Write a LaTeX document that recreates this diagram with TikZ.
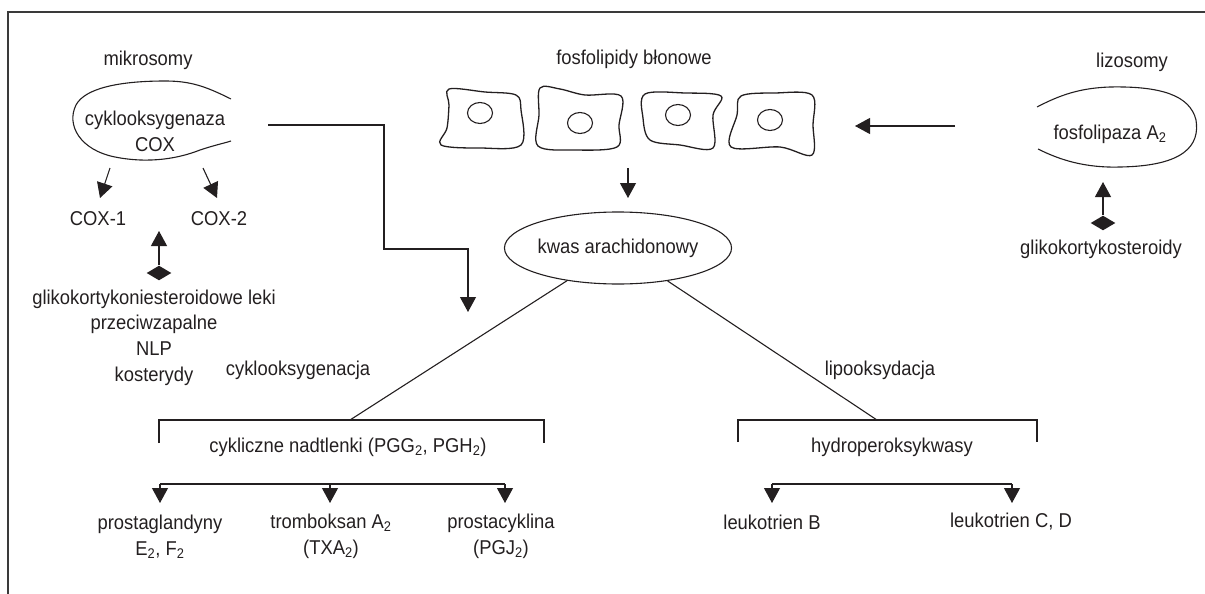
\documentclass[tikz,border=0pt]{standalone}
\usepackage{fontspec}
\setmainfont[FakeStretch=0.92]{Liberation Sans}
\usetikzlibrary{shapes.geometric,arrows.meta}
\definecolor{ink}{HTML}{231F20}
\definecolor{frame}{HTML}{3A3A3A}
\newcommand{\lsub}[1]{\textsubscript{#1}}
\begin{document}
\begin{tikzpicture}[x=1pt,y=-1pt,line width=1.1pt,draw=ink,
  lbl/.style={font=\fontsize{20}{26}\selectfont,text=ink,inner sep=0pt,align=center},
  arr/.style={-{Triangle[width=16pt,length=15pt]}},
  dia/.style={diamond,fill=ink,draw=none,minimum width=25pt,minimum height=15pt,inner sep=0pt},
  cell/.style={line width=1.3pt,draw=ink},
  nuc/.style={line width=1.1pt,draw=ink}]
\useasboundingbox (0,0) rectangle (1205,594);
% frame (left and top only)
\draw[frame,line width=1.5pt] (8,594) -- (8,12) -- (1205,12);

% ---- mikrosomy / COX
\node[lbl] (mikro) at (148,60) {mikrosomy};
\node[lbl] (cox) at (155,131) {cyklooksygenaza\\COX};
\draw (231,99) .. controls (205,86) and (190,81) .. (165,81)
      .. controls (120,81) and (85,88) .. (76,105)
      .. controls (66,125) and (80,150) .. (115,157)
      .. controls (150,164) and (180,158) .. (200,150)
      .. controls (215,145) and (225,143) .. (231,141);
\node[lbl] (cox1) at (98,219) {COX-1};
\node[lbl] (cox2) at (219,219) {COX-2};
\coordinate (c1s) at (110,168); \coordinate (c1e) at (100,198);
\coordinate (c2s) at (203,168); \coordinate (c2e) at (217,198);
\draw[arr] (c1s) -- (c1e);
\draw[arr] (c2s) -- (c2e);
\node[dia] (d1) at (159,273) {};
\coordinate (u1) at (159,231);
\draw[arr] (d1.north) -- (u1);
\node[lbl,font=\fontsize{20}{25.7}\selectfont] (leki) at (154,337.5)
  {glikokortykoniesteroidowe leki\\przeciwzapalne\\NLP\\kosterydy};
\node[lbl] (cyklo) at (298,370) {cyklooksygenacja};

% elbow from COX to left branch
\coordinate (e0) at (268,125);
\coordinate (e1) at (384,125);
\coordinate (e2) at (384,249);
\coordinate (e3) at (468,249);
\coordinate (e4) at (468,312);
\draw[arr] (e0) -- (e1) -- (e2) -- (e3) -- (e4);

% ---- membrane phospholipids
\node[lbl] (fosfo) at (634,59) {fosfolipidy błonowe};
\draw[cell] plot[smooth cycle,tension=0.55] coordinates
  {(449,89) (485,92) (516,95) (521,110) (521,145) (480,148) (441,145) (447,128) (449,105)};
\draw[nuc] (480,113) ellipse [x radius=12.5pt,y radius=10.5pt];
\draw[cell] plot[smooth cycle,tension=0.55] coordinates
  {(540,88) (560,89) (585,95) (621,96) (619,125) (617,147) (575,150) (538,146) (539,115)};
\draw[nuc] (580,123) ellipse [x radius=12.5pt,y radius=10.5pt];
\draw[cell] plot[smooth cycle,tension=0.55] coordinates
  {(645,94) (685,93) (721,96) (713,115) (713,148) (680,145) (650,140) (643,118)};
\draw[nuc] (678,115) ellipse [x radius=12.5pt,y radius=10.5pt];
\draw[cell] plot[smooth cycle,tension=0.55] coordinates
  {(741,96) (775,93) (812,95) (813,125) (812,155) (780,147) (731,147) (737,115)};
\draw[nuc] (770,120) ellipse [x radius=12.5pt,y radius=10.5pt];
\coordinate (fa1) at (628,168); \coordinate (fa2) at (628,198);
\draw[arr] (fa1) -- (fa2);

% ---- lizosomy
\node[lbl] (lizo) at (1132,62) {lizosomy};
\draw (1037,107) .. controls (1060,95) and (1080,88) .. (1110,87)
      .. controls (1160,86) and (1190,95) .. (1196,120)
      .. controls (1200,145) and (1185,166) .. (1120,167)
      .. controls (1085,168) and (1060,160) .. (1038,149);
\node[lbl] (fla2) at (1110,134) {fosfolipaza A\lsub{2}};
\coordinate (la1) at (955,126); \coordinate (la2) at (855,126);
\draw[arr] (la1) -- (la2);
\node[dia] (d2) at (1103,223) {};
\coordinate (u2) at (1103,182);
\draw[arr] (d2.north) -- (u2);
\node[lbl] (gliko) at (1101,249) {glikokortykosteroidy};

% ---- arachidonic acid
\node[ellipse,draw=ink,line width=1.1pt,minimum width=216pt,minimum height=72pt,inner sep=0pt,
  font=\fontsize{20}{26}\selectfont,text=ink] (kwas) at (618,248) {kwas arachidonowy};

% ---- left branch
\coordinate (bl) at (350,420);
\draw (kwas) -- (bl);
\draw (159,443) -- (159,420) -- (544,420) -- (544,443);
\node[lbl] (nadt) at (348,447) {cykliczne nadtlenki (PGG\lsub{2}, PGH\lsub{2})};
\coordinate (p1) at (160,484); \coordinate (p2) at (330,484); \coordinate (p3) at (505,484);
\draw (p1) -- (p3);
\draw[arr] (p1) -- ++(0,19);
\draw[arr] (p2) -- ++(0,19);
\draw[arr] (p3) -- ++(0,19);
\node[lbl] (pros) at (160,536.5) {prostaglandyny\\E\lsub{2}, F\lsub{2}};
\node[lbl] (trom) at (331,536.5) {tromboksan A\lsub{2}\\(TXA\lsub{2})};
\node[lbl] (pcyk) at (501,536.5) {prostacyklina\\(PGJ\lsub{2})};

% ---- right branch
\node[lbl] (lipo) at (880,370) {lipooksydacja};
\coordinate (br) at (877,420);
\draw (kwas) -- (br);
\draw (738,442) -- (738,420) -- (1037,420) -- (1037,442);
\node[lbl] (hydro) at (892,447) {hydroperoksykwasy};
\coordinate (q1) at (772,484); \coordinate (q2) at (1012,484);
\draw (q1) -- (q2);
\draw[arr] (q1) -- ++(0,19);
\draw[arr] (q2) -- ++(0,19);
\node[lbl] (leuB) at (772,522) {leukotrien B};
\node[lbl] (leuCD) at (1011,522) {leukotrien C, D};
\end{tikzpicture}
\end{document}
